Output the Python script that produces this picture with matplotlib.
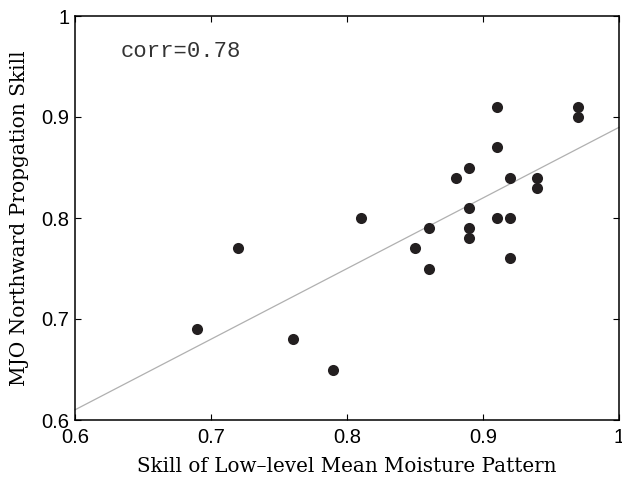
import numpy as np
import matplotlib
matplotlib.use("Agg")
import matplotlib.pyplot as plt

x_skill = [0.69, 0.72, 0.76, 0.79, 0.81, 0.85, 0.86, 0.86, 0.88, 0.89, 0.89, 0.89, 0.89,
           0.91, 0.91, 0.91, 0.92, 0.92, 0.92, 0.94, 0.94, 0.97, 0.97]
y_skill = [0.69, 0.77, 0.68, 0.65, 0.80, 0.77, 0.79, 0.75, 0.84, 0.85, 0.81, 0.79, 0.78,
           0.91, 0.87, 0.80, 0.84, 0.80, 0.76, 0.84, 0.83, 0.91, 0.90]
ticks = [0.6, 0.7, 0.8, 0.9, 1.0]
tick_labels = ["0.6", "0.7", "0.8", "0.9", "1"]

fig = plt.figure(figsize=(6.22, 4.78), dpi=100)
ax = fig.add_axes([75/622, 58/478, 544/622, 404/478])

xa = np.array(x_skill); ya = np.array(y_skill)
slope, icpt = np.polyfit(xa, ya, 1)
xl = np.array([0.6, 1.0])
ax.plot(xl, slope*xl + icpt, color="#b0b0b0", lw=0.9, zorder=1, clip_on=False)
ax.scatter(xa, ya, s=64, color="#231f20", zorder=2, linewidths=0)

ax.set_xlim(0.6, 1.0)
ax.set_ylim(0.6, 1.0)
ax.set_xticks(ticks)
ax.set_yticks(ticks)
ax.set_xticklabels(tick_labels, family="Liberation Sans", fontsize=14.5)
ax.set_yticklabels(tick_labels, family="Liberation Sans", fontsize=14.5)
ax.tick_params(axis="x", direction="in", length=4, width=0.8, top=True, pad=6)
ax.tick_params(axis="y", direction="in", length=4, width=0.8, right=True, pad=4)
for s in ax.spines.values():
    s.set_linewidth(1.1)

ax.set_xlabel("Skill of Low\u2013level Mean Moisture Pattern", family="DejaVu Serif", fontsize=14.3, labelpad=7)
ax.set_ylabel("MJO Northward Propgation Skill", family="DejaVu Serif", fontsize=14.5, labelpad=9)
ax.text(0.083, 0.911, "corr=0.78", transform=ax.transAxes, family="Liberation Mono",
        fontsize=16, va="center", color="#333333")

fig.savefig("out.png", dpi=100)
